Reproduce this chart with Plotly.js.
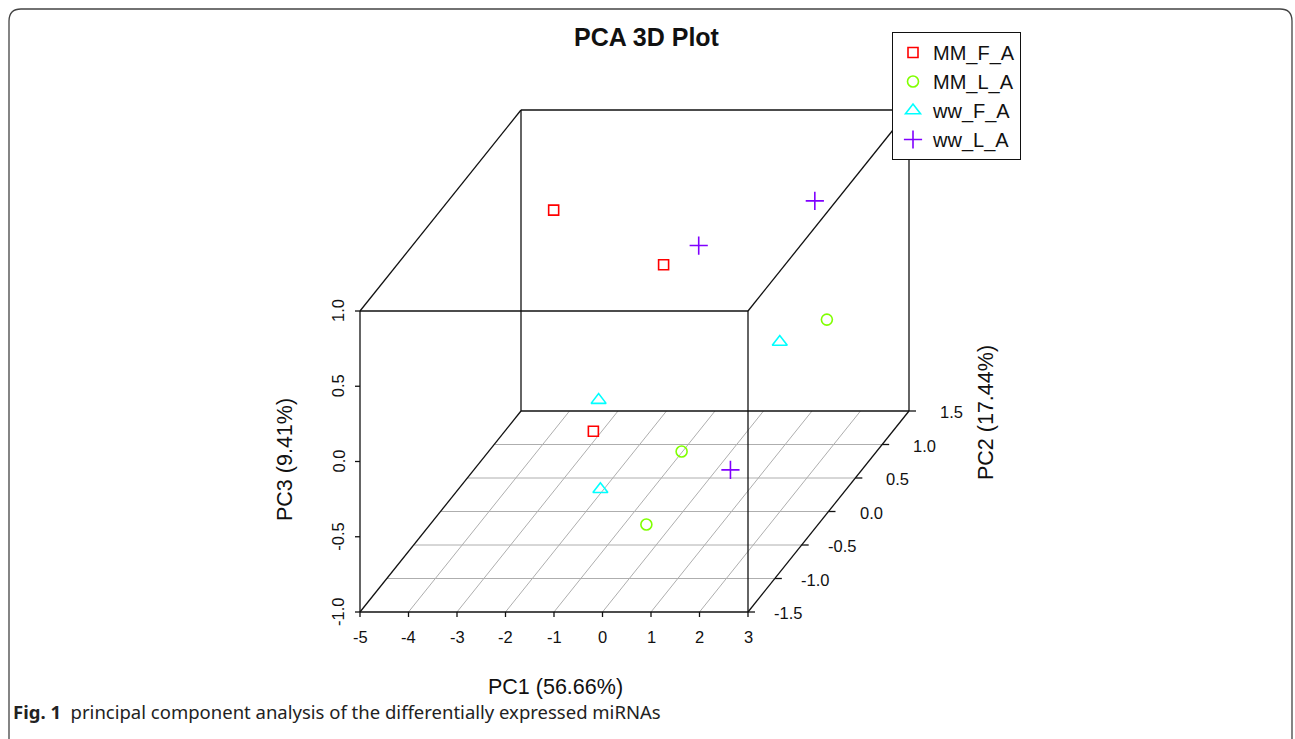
<!DOCTYPE html>
<html>
<head>
<meta charset="utf-8">
<script src="https://cdn.plot.ly/plotly-3.0.1.min.js"></script>
<style>
html,body{margin:0;padding:0;background:#fff;}
#chart{width:1295px;height:739px;}
</style>
</head>
<body>
<div id="chart"></div>
<script>
// ---------------- data ----------------
const groups = ['MM_F_A', 'MM_L_A', 'ww_F_A', 'ww_L_A'];
const groupColors = ['#FF0000', '#80FF00', '#00FFFF', '#8000FF'];
const groupSymbols = ['square-open', 'circle-open', 'triangle-up-open', 'cross-thin-open'];

const pc1_MM_F_A = [-3.22, -0.40, -2.18];
const pc2_MM_F_A = [0.5, 0.0, 0.3];
const pc3_MM_F_A = [0.78, 0.64, -0.60];

const pc1_MM_L_A = [1.86, -0.25, 0.13];
const pc2_MM_L_A = [1.0, 0.2, -0.8];
const pc3_MM_L_A = [-0.17, -0.69, -0.73];

const pc1_ww_F_A = [1.11, -1.74, -1.15];
const pc2_ww_F_A = [0.8, 0.0, -0.5];
const pc3_ww_F_A = [-0.23, -0.26, -0.63];

const pc1_ww_L_A = [1.39, -0.34, 1.31];
const pc2_ww_L_A = [1.2, 0.6, -0.3];
const pc3_ww_L_A = [0.53, 0.50, -0.59];

const pc1Ticks = [-5, -4, -3, -2, -1, 0, 1, 2, 3];
const pc1TickLabels = ['-5', '-4', '-3', '-2', '-1', '0', '1', '2', '3'];
const pc2Ticks = [-1.5, -1.0, -0.5, 0.0, 0.5, 1.0, 1.5];
const pc2TickLabels = ['-1.5', '-1.0', '-0.5', '0.0', '0.5', '1.0', '1.5'];
const pc3Ticks = [-1.0, -0.5, 0.0, 0.5, 1.0];
const pc3TickLabels = ['-1.0', '-0.5', '0.0', '0.5', '1.0'];

const titleText = 'PCA 3D Plot';
const xTitle = 'PC1 (56.66%)';
const yTitle = 'PC2 (17.44%)';
const zTitle = 'PC3 (9.41%)';
const captionBold = 'Fig. 1';
const captionText = 'principal component analysis of the differentially expressed miRNAs';

// ---------------- projection (scatterplot3d style oblique) ----------------
const W = 1295, H = 739;
const PX1 = 48.5;     // pixels per PC1 unit
const PX3 = 150.5;    // pixels per PC3 unit
const LEFT_PIX = 360; // pixel of PC1 = -5
const BOT_PIX = 612;  // pixel of PC3 = -1
const DEPTH_X = 161, DEPTH_Y = 201; // pixel shift of the full PC2 range
const P1MIN = pc1Ticks[0], P1MAX = pc1Ticks[pc1Ticks.length - 1];
const P2MIN = pc2Ticks[0], P2MAX = pc2Ticks[pc2Ticks.length - 1];
const P3MIN = pc3Ticks[0], P3MAX = pc3Ticks[pc3Ticks.length - 1];
const DX = DEPTH_X / PX1 / (P2MAX - P2MIN);
const DY = DEPTH_Y / PX3 / (P2MAX - P2MIN);
const uL = P1MIN - LEFT_PIX / PX1, uR = uL + W / PX1;
const vB = P3MIN - (H - BOT_PIX) / PX3, vT = vB + H / PX3;

function proj(a, b, c) { return [a + (b - P2MIN) * DX, c + (b - P2MIN) * DY]; }

function segTrace(segs, color, width) {
  const x = [], y = [];
  segs.forEach(s => {
    const p = proj(s[0], s[1], s[2]), q = proj(s[3], s[4], s[5]);
    x.push(p[0], q[0], null); y.push(p[1], q[1], null);
  });
  return {type: 'scatter', mode: 'lines', x: x, y: y, showlegend: false, hoverinfo: 'skip',
          line: {color: color, width: width}};
}

const traces = [];
// floor grid
const gridSegs = [];
pc2Ticks.slice(1, -1).forEach(b => gridSegs.push([P1MIN, b, P3MIN, P1MAX, b, P3MIN]));
pc1Ticks.slice(1, -1).forEach(a => gridSegs.push([a, P2MIN, P3MIN, a, P2MAX, P3MIN]));
traces.push(segTrace(gridSegs, '#aeaeae', 1));

// box
const boxSegs = [];
[P2MIN, P2MAX].forEach(b => {
  boxSegs.push([P1MIN, b, P3MIN, P1MAX, b, P3MIN]);
  boxSegs.push([P1MIN, b, P3MAX, P1MAX, b, P3MAX]);
  boxSegs.push([P1MIN, b, P3MIN, P1MIN, b, P3MAX]);
  boxSegs.push([P1MAX, b, P3MIN, P1MAX, b, P3MAX]);
});
[[P1MIN, P3MIN], [P1MAX, P3MIN], [P1MIN, P3MAX], [P1MAX, P3MAX]].forEach(c =>
  boxSegs.push([c[0], P2MIN, c[1], c[0], P2MAX, c[1]]));
traces.push(segTrace(boxSegs, '#111', 1.3));

// ticks
const tx = [], ty = [];
pc1Ticks.forEach(a => { const p = proj(a, P2MIN, P3MIN); tx.push(p[0], p[0], null); ty.push(p[1], p[1] - 5 / PX3, null); });
pc3Ticks.forEach(c => { const p = proj(P1MIN, P2MIN, c); tx.push(p[0], p[0] - 5 / PX1, null); ty.push(p[1], p[1], null); });
pc2Ticks.forEach(b => { const p = proj(P1MAX, b, P3MIN); tx.push(p[0], p[0] + 7 / PX1, null); ty.push(p[1], p[1], null); });
traces.push({type: 'scatter', mode: 'lines', x: tx, y: ty, showlegend: false, hoverinfo: 'skip', line: {color: '#111', width: 1.3}});

// points
const allData = [
  [pc1_MM_F_A, pc2_MM_F_A, pc3_MM_F_A],
  [pc1_MM_L_A, pc2_MM_L_A, pc3_MM_L_A],
  [pc1_ww_F_A, pc2_ww_F_A, pc3_ww_F_A],
  [pc1_ww_L_A, pc2_ww_L_A, pc3_ww_L_A]
];
const markerSizes = [10, 11, 13, 13];
groups.forEach((g, i) => {
  const d = allData[i];
  const xs = [], ys = [];
  d[0].forEach((a, k) => { const p = proj(a, d[1][k], d[2][k]); xs.push(p[0]); ys.push(p[1]); });
  traces.push({type: 'scatter', mode: 'markers', name: g, x: xs, y: ys,
    marker: {symbol: groupSymbols[i], color: groupColors[i], size: markerSizes[i], line: {color: groupColors[i], width: 1.6}}});
});

// ---------------- annotations ----------------
const tickFont = {family: 'Liberation Sans, Arial, sans-serif', size: 16.5, color: '#111'};
const ann = [];
pc1Ticks.forEach((a, i) => {
  const p = proj(a, P2MIN, P3MIN);
  ann.push({x: p[0], y: p[1] - 25 / PX3, xref: 'x', yref: 'y', text: pc1TickLabels[i], showarrow: false, font: tickFont, xanchor: 'center', yanchor: 'middle'});
});
pc3Ticks.forEach((c, i) => {
  const p = proj(P1MIN, P2MIN, c);
  ann.push({x: p[0] - 22 / PX1, y: p[1], xref: 'x', yref: 'y', text: pc3TickLabels[i], showarrow: false, font: tickFont, textangle: -90, xanchor: 'center', yanchor: 'middle'});
});
pc2Ticks.forEach((b, i) => {
  const p = proj(P1MAX, b, P3MIN);
  ann.push({x: p[0] + 56 / PX1, y: p[1] - 1 / PX3, xref: 'x', yref: 'y', text: pc2TickLabels[i], showarrow: false, font: tickFont, xanchor: 'right', yanchor: 'middle'});
});
const labFont = {family: 'Liberation Sans, Arial, sans-serif', size: 21.5, color: '#111'};
function px(xp) { return xp / W; }
function py(yp) { return 1 - yp / H; }
ann.push({x: px(555), y: py(687), xref: 'paper', yref: 'paper', text: xTitle, showarrow: false, font: labFont, xanchor: 'center', yanchor: 'middle'});
ann.push({x: px(285), y: py(460), xref: 'paper', yref: 'paper', text: zTitle, showarrow: false, font: labFont, textangle: -90, xanchor: 'center', yanchor: 'middle'});
ann.push({x: px(986), y: py(413), xref: 'paper', yref: 'paper', text: yTitle, showarrow: false, font: labFont, textangle: -90, xanchor: 'center', yanchor: 'middle'});
ann.push({x: px(647), y: py(37), xref: 'paper', yref: 'paper', text: '<b>' + titleText + '</b>', showarrow: false,
  font: {family: 'Liberation Sans, Arial, sans-serif', size: 25, color: '#111'}, xanchor: 'center', yanchor: 'middle'});
ann.push({x: px(11), y: py(711), xref: 'paper', yref: 'paper', text: '<b>' + captionBold + '</b>  ' + captionText, showarrow: false,
  font: {family: 'Noto Sans, sans-serif', size: 18.5, color: '#222'}, xanchor: 'left', yanchor: 'middle'});

// frame (rounded rectangle)
const r = 12, fl = 9, ft = 9, fr = 1292, fb = 760;
const framePath = `M ${fl} ${fb} L ${fl} ${ft + r} Q ${fl} ${ft} ${fl + r} ${ft} L ${fr - r} ${ft} Q ${fr} ${ft} ${fr} ${ft + r} L ${fr} ${fb}`;

const layout = {
  width: W, height: H,
  margin: {l: 0, r: 0, t: 0, b: 0, pad: 0},
  paper_bgcolor: '#fff', plot_bgcolor: '#fff',
  xaxis: {range: [uL, uR], visible: false, fixedrange: true},
  yaxis: {range: [vB, vT], visible: false, fixedrange: true},
  showlegend: true,
  legend: {x: px(892), y: py(32), xanchor: 'left', yanchor: 'top', bordercolor: '#111', borderwidth: 1, bgcolor: '#fff',
    font: {family: 'Liberation Sans, Arial, sans-serif', size: 20, color: '#111'}, tracegroupgap: 0},
  annotations: ann,
  shapes: [{type: 'path', xref: 'paper', yref: 'paper', path: framePath.replace(/(-?\d+(\.\d+)?) (-?\d+(\.\d+)?)/g, (m, a, _a, b) => (a / W) + ' ' + (1 - b / H)),
    line: {color: '#444', width: 1.3}}]
};

Plotly.newPlot('chart', traces, layout, {displayModeBar: false, staticPlot: true});
</script>
</body>
</html>
